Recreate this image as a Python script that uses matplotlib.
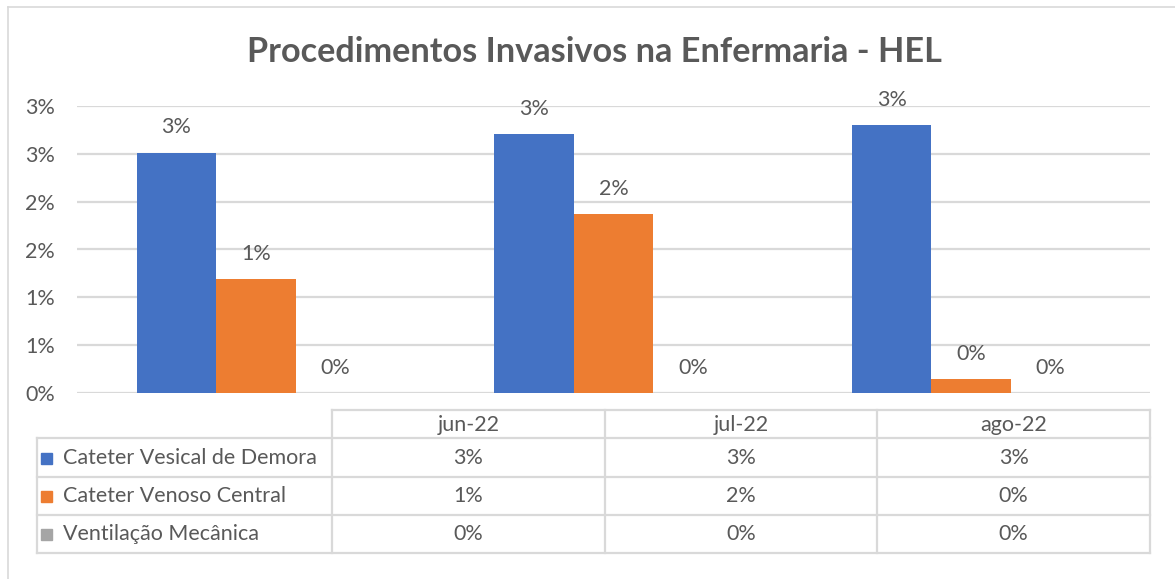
import math
import matplotlib
matplotlib.use("Agg")
import matplotlib.pyplot as plt
from matplotlib.ticker import FuncFormatter, MultipleLocator
from matplotlib.patches import Rectangle
from matplotlib.lines import Line2D

plt.rcParams['font.family'] = ['Lato', 'DejaVu Sans']

months = ["jun-22", "jul-22", "ago-22"]
series = ["Cateter Vesical de Demora", "Cateter Venoso Central", "Ventilação Mecânica"]
cvd = [2.51, 2.70, 2.80]
cvc = [1.19, 1.87, 0.15]
vm = [0.0, 0.0, 0.0]
values = [cvd, cvc, vm]
colors = ["#4472C4", "#ED7D31", "#A5A5A5"]

TXT = "#595959"
GRID = "#D9D9D9"
FS = 15.5


def pct(v):
    # Excel-style: round half up, no decimals
    return f"{math.floor(v + 0.5):.0f}%"


W, H = 1175, 579
fig = plt.figure(figsize=(W / 100, H / 100), dpi=100)

# plot area in pixels: x 77..1150, y 106..393
ax = fig.add_axes([77 / W, 1 - 393.3 / H, (1150 - 77) / W, (393.3 - 105.7) / H])

bw = 0.222
x = range(len(months))
for i, (vals, col) in enumerate(zip(values, colors)):
    xs = [k + (i - 1) * bw for k in x]
    ax.bar(xs, vals, width=bw, color=col, zorder=3)
    for xx, v in zip(xs, vals):
        ax.annotate(pct(v), (xx, v), xytext=(0, 11), textcoords="offset points",
                    ha="center", va="bottom", fontsize=FS, color=TXT,
                    annotation_clip=False)

ax.set_xlim(-0.5, 2.5)
ax.set_ylim(0, 3.0)
ax.yaxis.set_major_locator(MultipleLocator(0.5))
ax.yaxis.set_major_formatter(FuncFormatter(lambda v, p: pct(v)))
ax.grid(axis="y", color=GRID, linewidth=1.6, zorder=0)
ax.set_xticks([])
ax.tick_params(axis="y", length=0, labelsize=FS, labelcolor=TXT, pad=16)
for s in ax.spines.values():
    s.set_visible(False)

fig.suptitle("Procedimentos Invasivos na Enfermaria - HEL", x=594 / W, y=1 - 52 / H,
             va="center", fontsize=24.7, fontweight="bold", color=TXT)

# data table under the plot (pixel layout)
left_lbl, left_dat, right = 37, 332, 1150
col_w = (right - left_dat) / len(months)
rows_y = [410, 438, 477, 515, 553]


def fx(px):
    return px / W


def fy(py):
    return 1 - py / H


lw = 1.6
# horizontal lines
fig.add_artist(Line2D([fx(left_dat), fx(right)], [fy(rows_y[0])] * 2, color=GRID, lw=lw))
for yy in rows_y[1:]:
    fig.add_artist(Line2D([fx(left_lbl), fx(right)], [fy(yy)] * 2, color=GRID, lw=lw))
# vertical lines
fig.add_artist(Line2D([fx(left_lbl)] * 2, [fy(rows_y[1]), fy(rows_y[-1])], color=GRID, lw=lw))
for j in range(len(months) + 1):
    xx = left_dat + j * col_w
    fig.add_artist(Line2D([fx(xx)] * 2, [fy(rows_y[0]), fy(rows_y[-1])], color=GRID, lw=lw))

for j, m in enumerate(months):
    cx = left_dat + (j + 0.5) * col_w
    fig.text(fx(cx), fy((rows_y[0] + rows_y[1]) / 2 + 1), m, ha="center", va="center",
             fontsize=FS, color=TXT)

for i, (name, vals, col) in enumerate(zip(series, values, colors)):
    cy = (rows_y[i + 1] + rows_y[i + 2]) / 2
    fig.add_artist(Rectangle((fx(41), fy(cy + 6)), 11 / W, 11 / H, color=col,
                             transform=fig.transFigure))
    fig.text(fx(63), fy(cy), name, ha="left", va="center", fontsize=FS, color=TXT)
    for j, v in enumerate(vals):
        cx = left_dat + (j + 0.5) * col_w
        fig.text(fx(cx), fy(cy), pct(v), ha="center", va="center", fontsize=FS, color=TXT)

# chart frame (left and top edges visible)
fig.add_artist(Line2D([fx(8), fx(8)], [fy(7), 0], color=GRID, lw=1.2))
fig.add_artist(Line2D([fx(8), 1], [fy(7), fy(7)], color=GRID, lw=1.2))

fig.savefig("out.png", dpi=100)
